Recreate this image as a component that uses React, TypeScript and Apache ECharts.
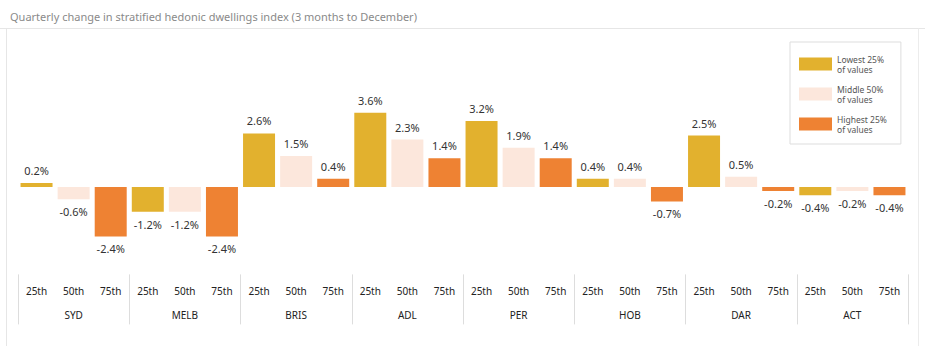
import React, { useEffect, useRef } from "react";
import * as echarts from "echarts";

const cities = ["SYD", "MELB", "BRIS", "ADL", "PER", "HOB", "DAR", "ACT"];
const percentiles = ["25th", "50th", "75th"];
const lowest25 = [0.2, -1.2, 2.6, 3.6, 3.2, 0.4, 2.5, -0.4];
const middle50 = [-0.6, -1.2, 1.5, 2.3, 1.9, 0.4, 0.5, -0.2];
const highest25 = [-2.4, -2.4, 0.4, 1.4, 1.4, -0.7, -0.2, -0.4];
const seriesNames = ["Lowest 25%\nof values", "Middle 50%\nof values", "Highest 25%\nof values"];
const colors = ["#E2B12E", "#FCE7DC", "#EE8233"];
const title = "Quarterly change in stratified hedonic dwellings index (3 months to December)";

const FONT = "'Noto Sans', sans-serif";

export default function App() {
  const ref = useRef<HTMLDivElement>(null);
  useEffect(() => {
    if (!ref.current) return;
    const chart = echarts.init(ref.current, undefined, { renderer: "svg" });
    const cats: string[] = [];
    cities.forEach(() => percentiles.forEach((p) => cats.push(p)));
    const groups = [lowest25, middle50, highest25];
    const series = groups.map((vals, si) => {
      const data: any[] = [];
      cities.forEach((_, ci) => {
        percentiles.forEach((_, pi) => {
          if (pi === si) {
            const v = vals[ci];
            data.push({
              value: v,
              label: { position: v < 0 ? "bottom" : "top" },
            });
          } else {
            data.push("-");
          }
        });
      });
      return {
        name: seriesNames[si],
        type: "bar",
        xAxisIndex: 0,
        barWidth: 32,
        barGap: "-100%",
        itemStyle: { color: colors[si] },
        label: {
          show: true,
          distance: 7,
          fontFamily: FONT,
          fontSize: 11,
          color: "#333",
          formatter: (p: any) => Number(p.value).toFixed(1) + "%",
        },
        data,
      };
    });
    chart.setOption({
      animation: false,
      textStyle: { fontFamily: FONT },
      title: {
        text: title,
        left: 5,
        top: 6,
        textStyle: { fontSize: 11, fontWeight: "normal", color: "#8a8a8a", fontFamily: FONT },
      },
      graphic: [
        {
          type: "line",
          shape: { x1: 0, y1: 28.5, x2: 925, y2: 28.5 },
          style: { stroke: "#e6e6e6", lineWidth: 1 },
          silent: true,
        },
        {
          type: "line",
          shape: { x1: 6.5, y1: 28.5, x2: 6.5, y2: 346 },
          style: { stroke: "#e6e6e6", lineWidth: 1 },
          silent: true,
        },
        {
          type: "line",
          shape: { x1: 918.5, y1: 28.5, x2: 918.5, y2: 346 },
          style: { stroke: "#ececec", lineWidth: 1 },
          silent: true,
        },
      ],
      legend: {
        orient: "vertical",
        left: 790,
        top: 42,
        padding: [12, 14, 10, 9],
        itemWidth: 33,
        itemHeight: 13,
        itemGap: 10,
        borderColor: "#dddddd",
        borderWidth: 1,
        icon: "rect",
        textStyle: { fontSize: 8.5, lineHeight: 10, color: "#555", fontFamily: FONT },
        data: seriesNames,
      },
      grid: { left: 18, right: 17, top: 104.6, bottom: 76.6 },
      xAxis: [
        {
          type: "category",
          data: cats,
          position: "bottom",
          axisLine: { show: false },
          axisTick: { show: false },
          axisLabel: { margin: 17, fontSize: 10, color: "#222", fontFamily: FONT, interval: 0 },
        },
        {
          type: "category",
          data: cities,
          position: "bottom",
          offset: 5,
          axisLine: { show: false },
          axisTick: { show: true, length: 50, lineStyle: { color: "#dddddd" } },
          axisLabel: { margin: 36, fontSize: 10, color: "#222", fontFamily: FONT, interval: 0 },
        },
      ],
      yAxis: {
        type: "value",
        min: -4,
        max: 4,
        show: false,
        splitLine: { show: false },
      },
      series,
    });
    return () => chart.dispose();
  }, []);
  return (
    <div
      ref={ref}
      style={{ position: "fixed", left: 0, top: 0, width: 925, height: 346, background: "#fff" }}
    />
  );
}
